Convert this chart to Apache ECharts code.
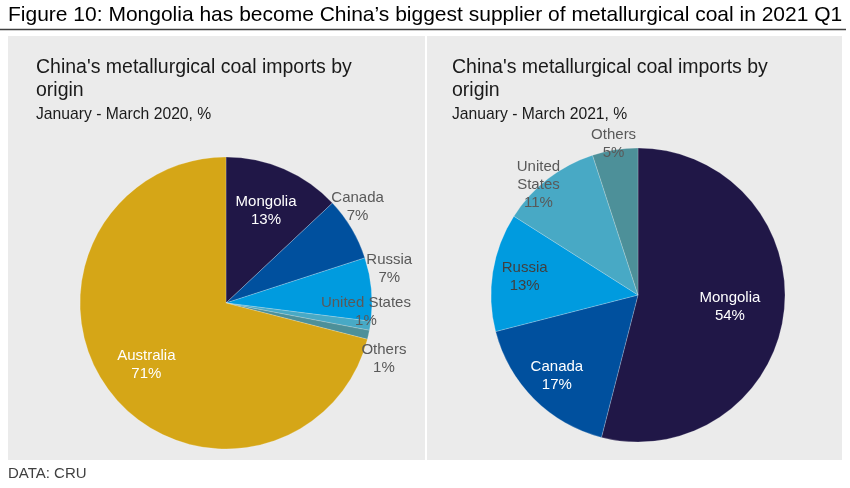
<!DOCTYPE html>
<html>
<head>
<meta charset="utf-8">
<script src="https://cdn.jsdelivr.net/npm/echarts@6/dist/echarts.min.js"></script>
<style>
html,body{margin:0;padding:0;background:#fff;}
#c{width:850px;height:488px;}
</style>
</head>
<body>
<div id="c"></div>
<script>
// ---- data ----
const leftNames = ['Mongolia', 'Canada', 'Russia', 'United States', 'Others', 'Australia'];
const leftLabels = ['Mongolia', 'Canada', 'Russia', 'United States', 'Others', 'Australia'];
const leftValues = [13, 7, 7, 1, 1, 71];
const rightNames = ['Mongolia', 'Canada', 'Russia', 'United States', 'Others'];
const rightLabels = ['Mongolia', 'Canada', 'Russia', 'United\nStates', 'Others'];
const rightValues = [54, 17, 13, 11, 5];

const colorMap = {
  'Mongolia': '#201747',
  'Canada': '#00509e',
  'Russia': '#009bdf',
  'United States': '#48a9c5',
  'Others': '#4d9099',
  'Australia': '#d5a617'
};

// small label nudges (px) for the outside labels
const leftNudge = { 'Canada': [-13, -11], 'Russia': [-4, -18], 'United States': [-26, -17], 'Others': [-6, 19] };
const rightNudge = { 'United States': [-4, 13], 'Others': [0, 3] };

const FONT = "'Liberation Sans', Arial, sans-serif";
const chart = echarts.init(document.getElementById('c'));

function visibleSeries(center, r, names, values) {
  return {
    type: 'pie', center: center, radius: [0, r], startAngle: 90, clockwise: true,
    silent: true, label: { show: false }, labelLine: { show: false },
    itemStyle: { borderColor: 'rgba(255,255,255,0.35)', borderWidth: 0.6 },
    data: names.map((n, i) => ({ name: n, value: values[i], itemStyle: { color: colorMap[n] } }))
  };
}

function labelSeries(center, radius, names, labels, values, show, colors, nudge) {
  const s = {
    type: 'pie', center: center, radius: radius, startAngle: 90, clockwise: true,
    silent: true, avoidLabelOverlap: false, z: 5,
    labelLine: { show: false },
    itemStyle: { color: 'rgba(0,0,0,0)', borderWidth: 0 },
    emphasis: { disabled: true },
    label: {
      position: 'inside', fontFamily: FONT, fontSize: 15, lineHeight: 18,
      formatter: p => labels[p.dataIndex] + '\n' + p.value + '%'
    },
    data: names.map((n, i) => ({
      name: n, value: values[i],
      label: { show: show.indexOf(n) >= 0, color: colors[n] || '#595959' }
    }))
  };
  if (nudge) {
    s.labelLayout = p => {
      const d = nudge[names[p.dataIndex]];
      return d ? { dx: d[0], dy: d[1] } : {};
    };
  }
  return s;
}

const LC = [226, 303], LR = 146;
const RC = [638, 295], RR = 147;
const leftWhite = { 'Mongolia': '#ffffff', 'Australia': '#ffffff' };

chart.setOption({
  animation: false,
  graphic: [
    { type: 'rect', z: -10, shape: { x: 8, y: 36, width: 417, height: 424 }, style: { fill: '#ebebeb' } },
    { type: 'rect', z: -10, shape: { x: 427, y: 36, width: 415, height: 424 }, style: { fill: '#ebebeb' } },
    { type: 'line', z: -10, shape: { x1: 0, y1: 29.5, x2: 846, y2: 29.5 }, style: { stroke: '#404040', lineWidth: 1.5 } }
  ],
  title: [
    { text: 'Figure 10: Mongolia has become China\u2019s biggest supplier of metallurgical coal in 2021 Q1',
      left: 8, top: 5, padding: 0, textStyle: { fontFamily: FONT, fontSize: 21, fontWeight: 'normal', color: '#000' } },
    { text: "China's metallurgical coal imports by\norigin", left: 36, top: 56, padding: 0,
      textStyle: { fontFamily: FONT, fontSize: 19.5, lineHeight: 23, fontWeight: 'normal', color: '#1a1a1a' } },
    { text: 'January - March 2020, %', left: 36, top: 107, padding: 0,
      textStyle: { fontFamily: FONT, fontSize: 15.7, fontWeight: 'normal', color: '#1a1a1a' } },
    { text: "China's metallurgical coal imports by\norigin", left: 452, top: 56, padding: 0,
      textStyle: { fontFamily: FONT, fontSize: 19.5, lineHeight: 23, fontWeight: 'normal', color: '#1a1a1a' } },
    { text: 'January - March 2021, %', left: 452, top: 107, padding: 0,
      textStyle: { fontFamily: FONT, fontSize: 15.7, fontWeight: 'normal', color: '#1a1a1a' } },
    { text: 'DATA: CRU', left: 8, top: 466, padding: 0,
      textStyle: { fontFamily: FONT, fontSize: 15, fontWeight: 'normal', color: '#404040' } }
  ],
  series: [
    visibleSeries(LC, LR, leftNames, leftValues),
    labelSeries(LC, [LR * 0.34, LR], leftNames, leftLabels, leftValues, ['Mongolia', 'Australia'], leftWhite),
    labelSeries(LC, [LR * 1.0, LR * 1.26], leftNames, leftLabels, leftValues,
      ['Canada', 'Russia', 'United States', 'Others'], {}, leftNudge),
    visibleSeries(RC, RR, rightNames, rightValues),
    labelSeries(RC, [RR * 0.22, RR], rightNames, rightLabels, rightValues, ['Mongolia'], { 'Mongolia': '#ffffff' }),
    labelSeries(RC, [RR * 0.52, RR], rightNames, rightLabels, rightValues, ['Canada', 'Russia'], { 'Canada': '#ffffff', 'Russia': '#404040' }),
    labelSeries(RC, [RR * 0.9, RR * 1.18], rightNames, rightLabels, rightValues, ['United States', 'Others'], {}, rightNudge)
  ]
});
</script>
</body>
</html>
